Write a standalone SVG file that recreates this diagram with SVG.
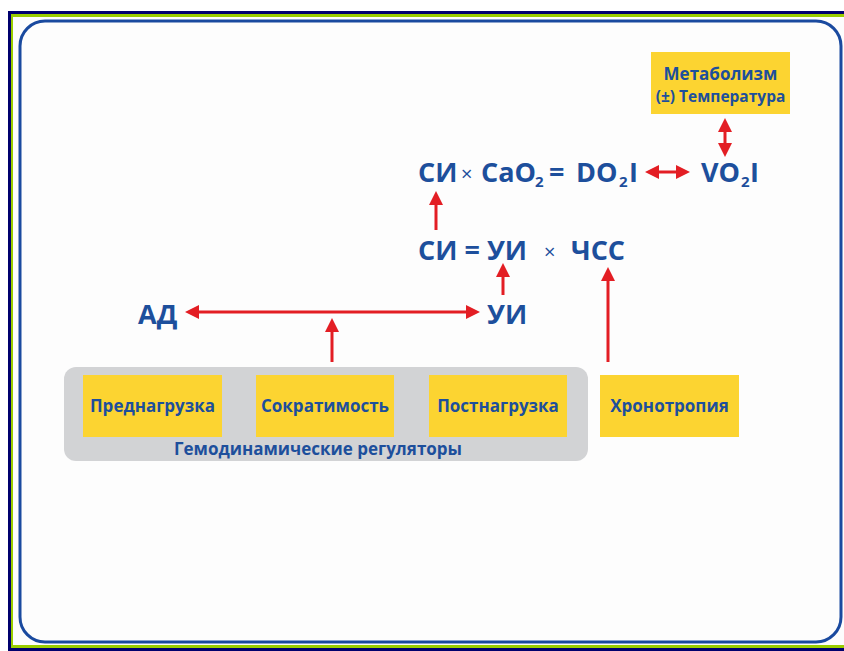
<svg xmlns="http://www.w3.org/2000/svg" width="844" height="651" viewBox="0 0 844 651">
<defs>
<style>
.box{fill:#fcd431}
.lbl{font-family:"Open Sans","Liberation Sans",sans-serif;font-weight:700;fill:#1d4f9c;text-anchor:middle}
.f{font-family:"Open Sans","Liberation Sans",sans-serif;font-weight:700;fill:#1d4f9c;font-size:27px}
.s{font-family:"Open Sans","Liberation Sans",sans-serif;font-weight:700;fill:#1d4f9c;font-size:15px}
.x{font-family:"Open Sans","Liberation Sans",sans-serif;font-weight:400;fill:#1d4f9c;font-size:20px}
.c{stroke:#e31e24;stroke-width:3;fill:none}
</style>
<marker id="ah" viewBox="0 0 14 14" refX="3" refY="7" markerWidth="14" markerHeight="14" orient="auto-start-reverse" markerUnits="userSpaceOnUse">
<path d="M0,0 L14,7 L0,14 z" fill="#e31e24"/>
</marker>
</defs>
<rect x="0" y="0" width="844" height="651" fill="#ffffff"/>
<!-- outer frame -->
<rect x="8" y="11" width="836" height="640" fill="#00006e"/>
<rect x="11" y="14" width="833" height="634" fill="#9acd00"/>
<rect x="13" y="17" width="831" height="628" fill="#fdfdfd"/>
<rect x="20" y="21" width="821" height="621" rx="25" ry="25" fill="#fdfdfd" stroke="#1a4a9f" stroke-width="3"/>

<g id="group-regulators">
<rect x="64" y="367" width="524" height="94" rx="12" ry="12" fill="#d2d3d5"/>
<text class="lbl" x="318" y="455" font-size="17">Гемодинамические регуляторы</text>
</g>
<g id="node-preload">
<rect class="box" x="83" y="375" width="139" height="62"/>
<text class="lbl" x="152.5" y="412" font-size="17">Преднагрузка</text>
</g>
<g id="node-contractility">
<rect class="box" x="256" y="375" width="138" height="62"/>
<text class="lbl" x="325" y="412" font-size="17">Сократимость</text>
</g>
<g id="node-afterload">
<rect class="box" x="429" y="375" width="138" height="62"/>
<text class="lbl" x="498" y="412" font-size="17">Постнагрузка</text>
</g>
<g id="node-chronotropy">
<rect class="box" x="600" y="375" width="139" height="62"/>
<text class="lbl" x="669.5" y="412" font-size="17">Хронотропия</text>
</g>
<g id="node-metabolism">
<rect class="box" x="651" y="52" width="139" height="62"/>
<text class="lbl" x="720.5" y="80" font-size="17">Метаболизм</text>
<text class="lbl" x="720.5" y="102" font-size="15.5">(±) Температура</text>
</g>

<g id="node-ad"><text class="f" x="138" y="324">АД</text></g>
<g id="node-ui"><text class="f" x="487" y="324">УИ</text></g>
<g id="node-ci-eq">
<text class="f" x="418" y="260">СИ = УИ</text>
<text class="x" x="544" y="259">×</text>
<text class="f" x="571" y="260">ЧСС</text>
</g>
<g id="node-do2">
<text class="f" x="418" y="182">СИ</text>
<text class="x" x="461" y="181">×</text>
<text class="f" x="481" y="182">CaO</text>
<text class="s" x="535" y="187">2</text>
<text class="f" x="549" y="182">=</text>
<text class="f" x="576" y="182">DO</text>
<text class="s" x="619" y="187">2</text>
<text class="f" x="629" y="182">I</text>
</g>
<g id="node-vo2">
<text class="f" x="701" y="182">VO</text>
<text class="s" x="741" y="187">2</text>
<text class="f" x="750" y="182">I</text>
</g>

<g id="connectors">
<line class="c" x1="196" y1="312" x2="469" y2="312" marker-start="url(#ah)" marker-end="url(#ah)"/>
<line class="c" x1="332" y1="362" x2="332" y2="329" marker-end="url(#ah)"/>
<line class="c" x1="503" y1="295" x2="503" y2="274" marker-end="url(#ah)"/>
<line class="c" x1="608" y1="362" x2="608" y2="278" marker-end="url(#ah)"/>
<line class="c" x1="436" y1="230" x2="436" y2="202" marker-end="url(#ah)"/>
<line class="c" x1="656" y1="172" x2="679" y2="172" marker-start="url(#ah)" marker-end="url(#ah)"/>
<line class="c" x1="725" y1="129" x2="725" y2="146" marker-start="url(#ah)" marker-end="url(#ah)"/>
</g>
</svg>
